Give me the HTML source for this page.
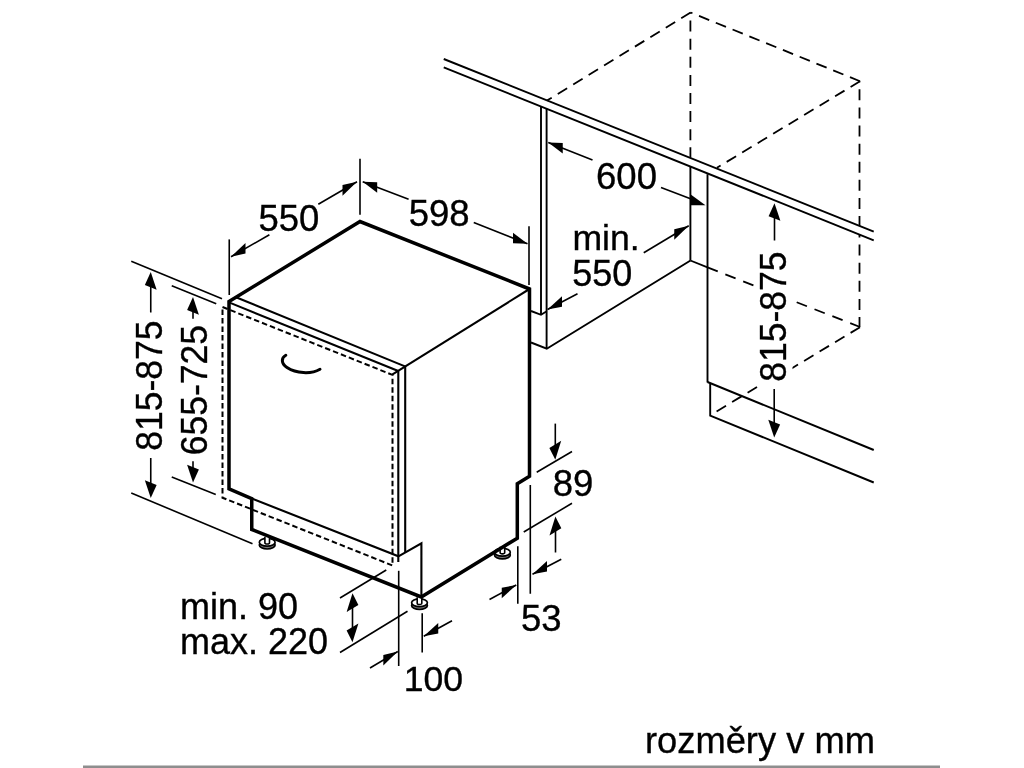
<!DOCTYPE html>
<html lang="cs"><head><meta charset="utf-8"><title>rozměry v mm</title>
<style>
html,body{margin:0;padding:0;background:#fff;}
body{width:1024px;height:768px;overflow:hidden;position:relative;}
svg{display:block;position:absolute;left:0;top:0;filter:grayscale(1);}
svg text{font-family:"Liberation Sans",Arial,Helvetica,sans-serif;fill:#000;stroke:#000;stroke-width:0.35px;}
.bar{position:absolute;left:83px;top:766px;width:857px;height:2px;background:#8e8e8e;}
</style></head><body>
<svg width="1024" height="768" viewBox="0 0 1024 768" stroke="#000" fill="none" stroke-linecap="butt">
<g stroke="#000"><ellipse cx="267.2" cy="545.0999999999999" rx="7.9" ry="3.9" fill="#777" stroke-width="1.7"/><ellipse cx="267.2" cy="542.3" rx="7.9" ry="3.9" fill="#fff" stroke-width="1.7"/><path d="M264.9,536.8 V542.6999999999999 A2.3 1.3 0 0 0 269.5,542.6999999999999 V536.8" fill="#fff" stroke-width="1.6"/></g>
<g stroke="#000"><ellipse cx="502.4" cy="555.0" rx="7.9" ry="3.9" fill="#777" stroke-width="1.7"/><ellipse cx="502.4" cy="552.2" rx="7.9" ry="3.9" fill="#fff" stroke-width="1.7"/><path d="M500.09999999999997,546.7 V552.6 A2.3 1.3 0 0 0 504.7,552.6 V546.7" fill="#fff" stroke-width="1.6"/></g>
<g stroke="#000"><ellipse cx="419.5" cy="605.5999999999999" rx="7.9" ry="3.9" fill="#777" stroke-width="1.7"/><ellipse cx="419.5" cy="602.8" rx="7.9" ry="3.9" fill="#fff" stroke-width="1.7"/><path d="M417.2,597.3 V603.1999999999999 A2.3 1.3 0 0 0 421.8,603.1999999999999 V597.3" fill="#fff" stroke-width="1.6"/></g>
<polygon points="529.5,289 360,221.5 229,301.5 229,488.75 251.75,498.75 251.75,529.5 421.25,597 517.3,538.2 517.3,483.75 529.5,476.2" stroke-width="3.5" fill="none" stroke-linejoin="miter"/>
<line x1="236" y1="297.3" x2="405" y2="366.4" stroke-width="2.1" />
<line x1="229" y1="302.4" x2="398.25" y2="371" stroke-width="2.1" />
<line x1="392.5" y1="374.3" x2="529.5" y2="289" stroke-width="2.1" />
<line x1="405.2" y1="366.4" x2="405.2" y2="552.4" stroke-width="2.1" />
<line x1="398.3" y1="371" x2="398.3" y2="562" stroke-width="2.1" />
<polyline points="251.75,498.5 398.4,556.3 421.4,543.4 421.4,597" stroke-width="2.1" fill="none" />
<polygon points="222.5,307 392.5,374.9 392.5,565.5 222.5,497.7" stroke-width="2.0" fill="none" stroke-dasharray="5.5 3"/>
<path d="M285.8,355.3 C281,358 281,363.5 287,367.5 C296,373.5 311,374.5 320,369.2" fill="none" stroke-width="3" stroke-linecap="round"/>
<line x1="443.75" y1="59" x2="873.75" y2="231.6" stroke-width="1.9" />
<line x1="443.75" y1="67.3" x2="873.75" y2="240.3" stroke-width="1.9" />
<line x1="541" y1="106.3" x2="541" y2="314.5" stroke-width="1.9" />
<line x1="546.6" y1="108.7" x2="546.6" y2="348.75" stroke-width="1.9" />
<polyline points="531,311 541,314.8 546.75,311.3" stroke-width="1.9" fill="none" />
<polyline points="531,342.5 546.75,348.75 690.5,260.5" stroke-width="1.9" fill="none" />
<line x1="690.4" y1="167" x2="690.4" y2="260.5" stroke-width="1.9" />
<line x1="707.5" y1="174.2" x2="707.5" y2="382.5" stroke-width="1.9" />
<polyline points="707.5,382 873.75,450" stroke-width="1.9" fill="none" />
<polyline points="710.2,383.2 710.2,415.6 873.75,482.5" stroke-width="1.9" fill="none" />
<line x1="690.6" y1="12.5" x2="546.9" y2="100.6" stroke-width="1.8" stroke-dasharray="11 7.1" stroke-dashoffset="0"/>
<line x1="690.6" y1="12.5" x2="860" y2="81.25" stroke-width="1.8" stroke-dasharray="11 7.1" stroke-dashoffset="9"/>
<line x1="860" y1="81.25" x2="716.9" y2="167.8" stroke-width="1.8" stroke-dasharray="11 7.1" stroke-dashoffset="0"/>
<line x1="690.4" y1="12.5" x2="690.4" y2="157.5" stroke-width="1.8" stroke-dasharray="11 7.1" stroke-dashoffset="10"/>
<line x1="859.5" y1="81.25" x2="859.5" y2="226" stroke-width="1.8" stroke-dasharray="11 7.1" stroke-dashoffset="10"/>
<line x1="859.5" y1="235" x2="859.5" y2="327" stroke-width="1.8" stroke-dasharray="11 7.1" stroke-dashoffset="8.5"/>
<line x1="690.4" y1="260.5" x2="707.5" y2="267.4" stroke-width="1.8" />
<line x1="707.5" y1="267.4" x2="860" y2="327" stroke-width="1.8" stroke-dasharray="11 8.15"/>
<line x1="860" y1="327.2" x2="790" y2="369.4" stroke-width="1.8" stroke-dasharray="11 7.1" stroke-dashoffset="0"/>
<line x1="716.6" y1="411.4" x2="760" y2="385.2" stroke-width="1.8" stroke-dasharray="11 7.1" stroke-dashoffset="0"/>
<line x1="229.25" y1="239.4" x2="229.25" y2="295" stroke-width="1.6" />
<line x1="360" y1="158.8" x2="360" y2="214.7" stroke-width="1.6" />
<line x1="529" y1="226.25" x2="529" y2="285" stroke-width="1.6" />
<line x1="131.25" y1="261.25" x2="222" y2="298.75" stroke-width="1.6" />
<line x1="171.75" y1="285.75" x2="216.25" y2="303.75" stroke-width="1.6" />
<line x1="131.25" y1="493" x2="252.5" y2="543.75" stroke-width="1.6" />
<line x1="171.75" y1="477" x2="215.75" y2="494.5" stroke-width="1.6" />
<line x1="536.7" y1="472.3" x2="572" y2="451.5" stroke-width="1.6" />
<line x1="523.75" y1="532" x2="572" y2="503.25" stroke-width="1.6" />
<line x1="530.3" y1="485" x2="530.3" y2="593.75" stroke-width="1.6" />
<line x1="517.8" y1="546.25" x2="517.8" y2="603.75" stroke-width="1.6" />
<line x1="398.7" y1="570.8" x2="398.7" y2="666" stroke-width="1.6" />
<line x1="422.2" y1="613.2" x2="422.2" y2="652.4" stroke-width="1.6" />
<line x1="386.25" y1="570" x2="340" y2="598" stroke-width="1.6" />
<line x1="407.5" y1="611.25" x2="340" y2="652.5" stroke-width="1.6" />
<line x1="231" y1="256.7" x2="269.4" y2="234.8" stroke-width="1.6" />
<polygon points="231.00,256.70 245.50,242.92 245.50,253.52" fill="#000" stroke="none"/>
<line x1="318.3" y1="204.2" x2="357" y2="181.7" stroke-width="1.6" />
<polygon points="357.00,181.70 342.50,185.10 342.50,195.70" fill="#000" stroke="none"/>
<line x1="362.7" y1="181.7" x2="408.6" y2="199.2" stroke-width="1.6" />
<polygon points="362.70,181.70 377.20,182.20 377.20,192.80" fill="#000" stroke="none"/>
<line x1="473.75" y1="222.5" x2="527.5" y2="243.75" stroke-width="1.6" />
<polygon points="527.50,243.75 513.00,232.65 513.00,243.25" fill="#000" stroke="none"/>
<line x1="548.25" y1="142.5" x2="592.5" y2="160" stroke-width="1.6" />
<polygon points="548.25,142.50 562.75,143.00 562.75,153.60" fill="#000" stroke="none"/>
<line x1="661" y1="187.5" x2="690.5" y2="198.75" stroke-width="1.6" />
<polygon points="705.50,205.20 690.40,194.20 690.40,205.20" fill="#000" stroke="none"/>
<line x1="547.5" y1="309.5" x2="577.5" y2="293.75" stroke-width="1.6" />
<polygon points="547.50,309.50 562.00,296.22 562.00,306.82" fill="#000" stroke="none"/>
<line x1="643.75" y1="252.75" x2="688.75" y2="225.75" stroke-width="1.6" />
<polygon points="688.75,225.75 674.25,229.15 674.25,239.75" fill="#000" stroke="none"/>
<line x1="774.5" y1="215" x2="774.5" y2="240.5" stroke-width="1.6" />
<polygon points="774.50,203.20 768.60,216.14 780.40,220.86" fill="#000" stroke="none"/>
<line x1="774.2" y1="389" x2="774.2" y2="425" stroke-width="1.6" />
<polygon points="774.20,437.50 768.30,419.84 780.10,424.56" fill="#000" stroke="none"/>
<line x1="150.75" y1="285" x2="150.75" y2="312.5" stroke-width="1.6" />
<polygon points="150.75,272.00 144.85,284.94 156.65,289.66" fill="#000" stroke="none"/>
<line x1="150.75" y1="458" x2="150.75" y2="485" stroke-width="1.6" />
<polygon points="150.75,498.00 144.85,480.34 156.65,485.06" fill="#000" stroke="none"/>
<line x1="193" y1="310" x2="193" y2="318.75" stroke-width="1.6" />
<polygon points="193.00,297.00 187.10,309.94 198.90,314.66" fill="#000" stroke="none"/>
<line x1="193" y1="461.25" x2="193" y2="470" stroke-width="1.6" />
<polygon points="193.00,482.50 187.10,464.84 198.90,469.56" fill="#000" stroke="none"/>
<line x1="555.3" y1="423.6" x2="555.3" y2="446" stroke-width="1.6" />
<polygon points="555.30,459.70 549.40,447.94 561.20,440.86" fill="#000" stroke="none"/>
<line x1="555.5" y1="530" x2="555.5" y2="552.5" stroke-width="1.6" />
<polygon points="555.40,516.60 549.50,535.44 561.30,528.36" fill="#000" stroke="none"/>
<line x1="489.5" y1="599.5" x2="516.25" y2="585" stroke-width="1.6" />
<polygon points="516.25,585.00 501.75,587.68 501.75,598.27" fill="#000" stroke="none"/>
<line x1="532.5" y1="574.25" x2="561.25" y2="559.25" stroke-width="1.6" />
<polygon points="532.50,574.25 547.00,560.98 547.00,571.57" fill="#000" stroke="none"/>
<line x1="370" y1="668" x2="397.8" y2="651.5" stroke-width="1.6" />
<polygon points="397.80,651.50 383.30,654.90 383.30,665.50" fill="#000" stroke="none"/>
<line x1="423.75" y1="636.25" x2="452" y2="620.75" stroke-width="1.6" />
<polygon points="423.75,636.25 438.25,622.98 438.25,633.57" fill="#000" stroke="none"/>
<line x1="352.5" y1="605" x2="352.5" y2="630" stroke-width="1.6" />
<polygon points="352.50,593.20 346.60,612.04 358.40,604.96" fill="#000" stroke="none"/>
<polygon points="352.50,642.30 346.60,630.54 358.40,623.46" fill="#000" stroke="none"/>
<text x="288.9" y="230.7" font-size="36.5" text-anchor="middle" >550</text>
<text x="439.1" y="225.5" font-size="36.5" text-anchor="middle" >598</text>
<text x="626.5" y="188.75" font-size="36.5" text-anchor="middle" >600</text>
<text x="572.4" y="250.2" font-size="35.6" text-anchor="start" >min.</text>
<text x="572.3" y="286.4" font-size="36" text-anchor="start" >550</text>
<rect x="757" y="247" width="35.5" height="137" fill="#fff" stroke="none"/>
<text transform="translate(786.3,316.6) rotate(-90) scale(1,1.035)" font-size="35.5" text-anchor="middle">815-875</text>
<text transform="translate(162,385.6) rotate(-90) scale(1,1.035)" font-size="35.5" text-anchor="middle">815-875</text>
<text transform="translate(206.5,390.2) rotate(-90) scale(1,1.035)" font-size="35.5" text-anchor="middle">655-725</text>
<text x="552.8" y="496" font-size="36.5" text-anchor="start" >89</text>
<text x="521" y="631.3" font-size="36.5" text-anchor="start" >53</text>
<text x="403.8" y="690.9" font-size="35.6" text-anchor="start" >100</text>
<text x="179.9" y="618.5" font-size="36" text-anchor="start" >min. 90</text>
<text x="179.9" y="654.2" font-size="36" text-anchor="start" >max. 220</text>
<text x="645" y="752.5" font-size="36.3" text-anchor="start" >rozměry v mm</text>
<rect x="83" y="765.5" width="857" height="2.5" fill="#8e8e8e" stroke="none"/>
</svg>

</body></html>
